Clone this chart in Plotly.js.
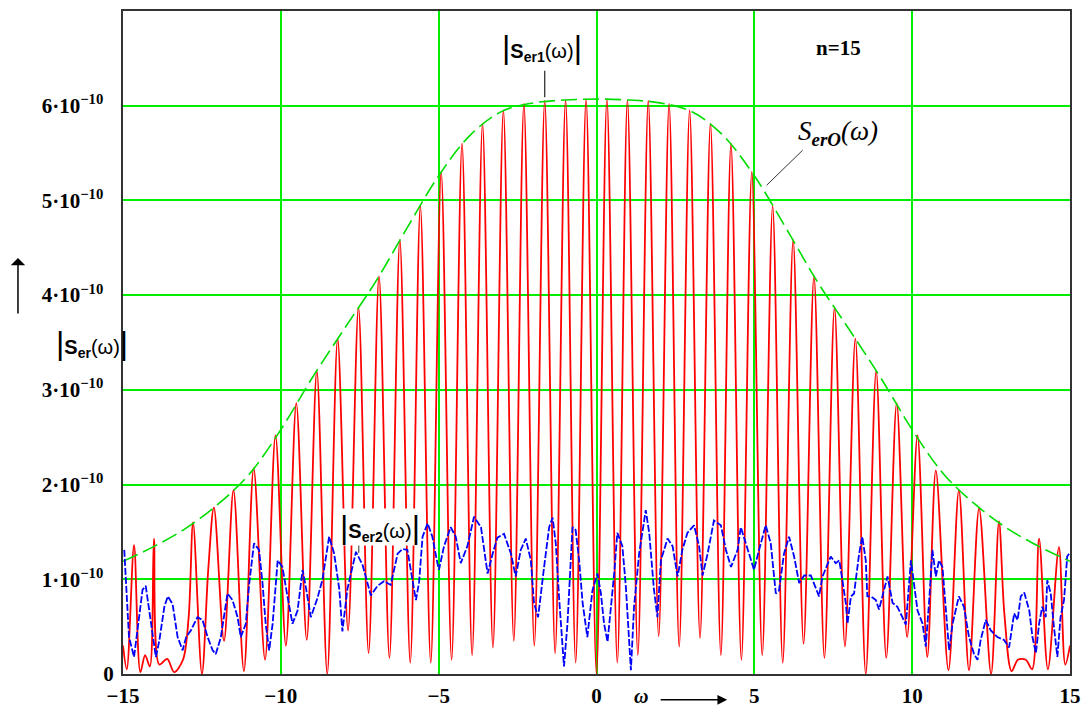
<!DOCTYPE html>
<html>
<head>
<meta charset="utf-8">
<script src="https://cdn.plot.ly/plotly-3.0.1.min.js"></script>
<style>html,body{margin:0;padding:0;background:#fff;}#chart{width:1085px;height:709px;}</style>
</head>
<body>
<div id="chart"></div>
<script>
// values in units of 1e-10
const SCALE = 1e-10;

// |S_er1(ω)| (red) – vertices
const omegaRed = [-15.0,-14.88,-14.65,-14.45,-14.3,-14.15,-14.02,-13.85,-13.6,-13.38,-13.1,-12.92,-12.78,-12.5,-12.3,-12.12,-11.8,-11.5,-11.17,-10.86,-10.5,-10.17,-9.84,-9.51,-9.18,-8.86,-8.53,-8.2,-7.87,-7.54,-7.22,-6.89,-6.56,-6.23,-5.9,-5.58,-5.25,-4.92,-4.59,-4.26,-3.94,-3.61,-3.28,-2.95,-2.62,-2.3,-1.97,-1.64,-1.31,-0.98,-0.66,-0.33,0,0.33,0.66,0.98,1.31,1.64,1.97,2.3,2.62,2.95,3.28,3.61,3.94,4.26,4.59,4.92,5.25,5.58,5.9,6.23,6.56,6.89,7.22,7.54,7.87,8.2,8.53,8.86,9.18,9.51,9.84,10.17,10.48,10.75,11.15,11.48,11.8,12.12,12.5,12.75,12.92,13.15,13.35,13.6,13.8,14.02,14.3,14.65,14.85,15.0];
const serRed = [0.3,0.05,1.36,0.02,0.2,0.08,1.43,0.1,0.16,0.02,0.15,0.6,1.6,0.0,1.1,1.76,0.35,1.94,0.03,2.17,0.15,2.52,0.3,2.86,0.36,3.2,0.0,3.54,0.46,3.87,0.22,4.2,0.17,4.58,0.12,4.94,0.12,5.3,0.15,5.6,0.2,5.81,0.28,5.95,0.35,6.02,0.3,6.05,0.22,6.06,0.12,6.07,0.0,6.07,0.12,6.06,0.2,6.05,0.4,6.02,0.29,5.95,0.38,5.81,0.2,5.6,0.15,5.3,0.2,4.94,0.12,4.58,0.32,4.2,0.17,3.87,0.29,3.54,0.0,3.2,0.17,2.86,0.39,2.52,0.18,2.15,0.04,1.94,0.04,1.75,0.0,1.61,0.64,0.03,0.15,0.15,0.05,1.43,0.05,1.34,0.1,0.3];

// S_erO(ω) envelope (green dashed)
const omegaEnv = [-15,-14,-13,-12,-11,-10,-9,-8,-7,-6,-5,-4,-3,-2,-1,0,1,2,3,4,5,6,7,8,9,10,11,12,13,14,15];
const serEnv = [1.19,1.35,1.54,1.79,2.11,2.58,3.13,3.64,4.14,4.71,5.26,5.69,5.94,6.03,6.06,6.07,6.06,6.03,5.94,5.69,5.26,4.71,4.14,3.64,3.13,2.58,2.11,1.79,1.54,1.35,1.19];

// |S_er2(ω)| (blue)
const omegaBlue = [-14.96,-14.91,-14.81,-14.65,-14.54,-14.38,-14.28,-14.17,-14.06,-13.96,-13.85,-13.69,-13.58,-13.43,-13.27,-13.11,-13.0,-12.85,-12.64,-12.48,-12.32,-12.16,-12.06,-11.9,-11.69,-11.53,-11.37,-11.27,-11.11,-11.0,-10.85,-10.69,-10.58,-10.48,-10.37,-10.26,-10.1,-9.95,-9.79,-9.63,-9.47,-9.31,-9.21,-9.05,-8.84,-8.68,-8.47,-8.31,-8.15,-8.05,-7.89,-7.62,-7.41,-7.15,-6.94,-6.73,-6.52,-6.3,-6.15,-5.99,-5.83,-5.72,-5.62,-5.51,-5.35,-5.2,-5.04,-4.99,-4.83,-4.62,-4.46,-4.3,-4.09,-3.88,-3.66,-3.45,-3.29,-3.14,-2.93,-2.71,-2.56,-2.4,-2.24,-2.08,-1.98,-1.85,-1.66,-1.5,-1.39,-1.29,-1.18,-1.08,-1.03,-0.92,-0.76,-0.66,-0.55,-0.44,-0.29,-0.13,0.03,0.14,0.24,0.35,0.45,0.56,0.66,0.82,0.93,1.09,1.19,1.35,1.56,1.67,1.82,1.93,2.04,2.25,2.41,2.57,2.72,2.88,3.09,3.25,3.36,3.52,3.72,3.94,4.1,4.26,4.47,4.57,4.73,4.89,4.99,5.15,5.36,5.52,5.68,5.78,5.94,6.1,6.26,6.42,6.58,6.79,7.05,7.16,7.32,7.42,7.58,7.69,7.79,7.9,7.95,8.06,8.16,8.32,8.42,8.53,8.58,8.69,8.85,8.95,9.11,9.22,9.38,9.53,9.69,9.8,9.96,10.06,10.17,10.33,10.43,10.54,10.64,10.75,10.85,10.96,11.06,11.17,11.28,11.38,11.48,11.64,11.8,11.96,12.07,12.17,12.33,12.49,12.7,12.91,13.07,13.23,13.34,13.44,13.55,13.71,13.81,13.92,14.02,14.12,14.23,14.28,14.39,14.49,14.6,14.7,14.81,14.86,14.91,14.97];
const serBlue = [1.31,1.0,0.39,0.18,0.47,0.89,0.93,0.67,0.46,0.18,0.35,0.71,0.82,0.74,0.39,0.25,0.39,0.46,0.6,0.57,0.39,0.25,0.21,0.39,0.85,0.78,0.6,0.39,0.53,0.96,1.38,1.31,0.96,0.53,0.25,0.53,1.2,1.13,0.82,0.53,0.67,1.1,0.92,0.6,0.8,1.0,1.45,1.27,0.9,0.45,0.9,1.29,1.15,0.83,0.93,0.98,0.94,1.27,1.32,1.31,0.99,0.78,0.97,1.45,1.59,1.45,1.17,1.1,1.35,1.55,1.45,1.17,1.35,1.66,1.55,1.06,1.27,1.44,1.48,1.27,1.03,1.31,1.43,1.2,0.75,0.6,1.13,1.55,1.65,1.38,0.78,0.25,0.08,0.53,1.55,1.52,1.2,0.75,0.39,0.88,1.06,0.85,0.53,0.34,0.68,1.06,1.49,1.35,0.92,0.04,0.71,1.27,1.73,1.49,0.89,0.6,1.2,1.43,1.35,1.03,1.31,1.49,1.57,1.35,1.04,1.27,1.62,1.57,1.31,1.13,1.31,1.55,1.38,1.2,1.1,1.31,1.57,1.38,0.85,0.88,1.27,1.45,1.24,0.96,1.04,1.04,0.82,1.03,1.17,1.24,1.17,1.2,0.99,0.74,0.53,0.82,0.85,1.27,1.45,1.2,0.82,0.82,0.78,0.68,0.89,1.03,0.75,0.71,0.6,0.52,1.2,0.96,0.67,0.53,0.29,0.78,1.31,1.03,1.2,1.13,0.67,0.25,0.53,0.67,0.82,0.71,0.39,0.21,0.15,0.36,0.57,0.46,0.39,0.36,0.28,0.64,0.57,0.82,0.86,0.67,0.39,0.22,0.53,0.71,0.6,0.99,0.85,0.5,0.18,0.6,0.78,1.0,1.24,1.27];

// axis ticks
const xTickVals = [-15,-10,-5,0,5,10,15];
const xTickText = ['\u221215','\u221210','\u22125','0','5','10','15'];
const yTickMant = [0,1,2,3,4,5,6];

const toY = a => a.map(v => v * SCALE);
const yTickVals = yTickMant.map(v => v * SCALE);
const yTickText = yTickMant.map(v => v === 0 ? '0' : v + '\u00b710<sup>\u221210</sup>\u00a0\u00a0');

const GRID = 'rgb(0,238,0)';

const traces = [
  {x: omegaRed, y: toY(serRed), mode: 'lines', line: {color: '#ff0000', width: 1.8, shape: 'spline', smoothing: 0.9}, hoverinfo: 'skip'},
  {x: omegaEnv, y: toY(serEnv), mode: 'lines', line: {color: '#00dd00', width: 1.6, dash: '16px,6px', shape: 'spline'}, hoverinfo: 'skip'},
  {x: omegaBlue, y: toY(serBlue), mode: 'lines', line: {color: '#0000ff', width: 1.8, dash: '7px,2px'}, hoverinfo: 'skip'}
];

const tickFont = {family: 'Liberation Serif', size: 21, color: '#000', weight: 'bold'};

const layout = {
  width: 1085, height: 709,
  margin: {l: 123, r: 15, t: 11, b: 35, pad: 0},
  paper_bgcolor: '#fff', plot_bgcolor: '#fff',
  showlegend: false,
  xaxis: {
    range: [-15, 15], tickmode: 'array', tickvals: xTickVals, ticktext: xTickText,
    showgrid: true, gridcolor: GRID, gridwidth: 2, zeroline: false,
    showline: true, mirror: true, linecolor: '#333', linewidth: 2,
    ticks: '', tickfont: tickFont, ticklabelstandoff: 2
  },
  yaxis: {
    range: [0, 7e-10], tickmode: 'array', tickvals: yTickVals, ticktext: yTickText,
    showgrid: true, gridcolor: GRID, gridwidth: 2, zeroline: false,
    showline: true, mirror: true, linecolor: '#333', linewidth: 2,
    ticks: '', tickfont: tickFont, ticklabelstandoff: 3
  },
  shapes: [
    {type: 'line', xref: 'x', yref: 'y', x0: -1.64, x1: -1.64, y0: 6.37e-10, y1: 6.09e-10, line: {color: '#222', width: 1.2}},
    {type: 'line', xref: 'x', yref: 'y', x0: 5.39, x1: 6.53, y0: 5.16e-10, y1: 5.53e-10, line: {color: '#333', width: 1}},
    {type: 'line', xref: 'x', yref: 'y', x0: -7.53, x1: -7.53, y0: 1.41e-10, y1: 1.28e-10, line: {color: '#333', width: 1}}
  ],
  annotations: [
    {xref: 'x', yref: 'y', x: -1.73, y: 6.62e-10, showarrow: false,
     text: '<span style="font-size:32px">|</span><b>S</b><sub><b>er1</b></sub>(\u03c9)<span style="font-size:32px">|</span>',
     font: {family: 'Liberation Sans', size: 20, color: '#000'}},
    {xref: 'x', yref: 'y', x: 7.67, y: 6.61e-10, showarrow: false, text: '<b>n=15</b>',
     font: {family: 'Liberation Serif', size: 21, color: '#000'}},
    {xref: 'x', yref: 'y', x: 7.64, y: 5.71e-10, showarrow: false,
     text: '<i>S</i><sub><i><b>erO</b></i></sub><i>(\u03c9)</i>',
     font: {family: 'Liberation Serif', size: 27, color: '#000'}},
    {xref: 'x', yref: 'y', x: -6.86, y: 1.55e-10, showarrow: false, bgcolor: '#fff', borderpad: 0,
     text: '<span style="font-size:32px">|</span><b>S</b><sub><b>er2</b></sub>(\u03c9)<span style="font-size:32px">|</span>',
     font: {family: 'Liberation Sans', size: 20, color: '#000'}},
    {xref: 'paper', yref: 'paper', x: -0.0729, y: 0.499, showarrow: false,
     text: '<span style="font-size:32px">|</span><b>S</b><sub><b>er</b></sub>(\u03c9)<span style="font-size:32px">|</span>',
     font: {family: 'Liberation Sans', size: 20, color: '#000'}},
    {xref: 'paper', yref: 'paper', x: -0.1109, y: 0.6275, ax: 0, ay: 57, axref: 'pixel', ayref: 'pixel',
     showarrow: true, arrowhead: 1, arrowsize: 1.6, arrowwidth: 1.5, arrowcolor: '#000', text: ''},
    {xref: 'paper', yref: 'paper', x: 0.547, y: -0.0136, yanchor: 'top', showarrow: false, text: '<b><i>\u03c9</i></b>',
     font: {family: 'Liberation Serif', size: 20, color: '#000'}},
    {xref: 'paper', yref: 'paper', x: 0.638, y: -0.039, ax: -68, ay: 0, axref: 'pixel', ayref: 'pixel',
     showarrow: true, arrowhead: 2, arrowsize: 1.3, arrowwidth: 1.5, arrowcolor: '#000', text: ''}
  ]
};

Plotly.newPlot('chart', traces, layout, {staticPlot: true, displayModeBar: false});
</script>
</body>
</html>
